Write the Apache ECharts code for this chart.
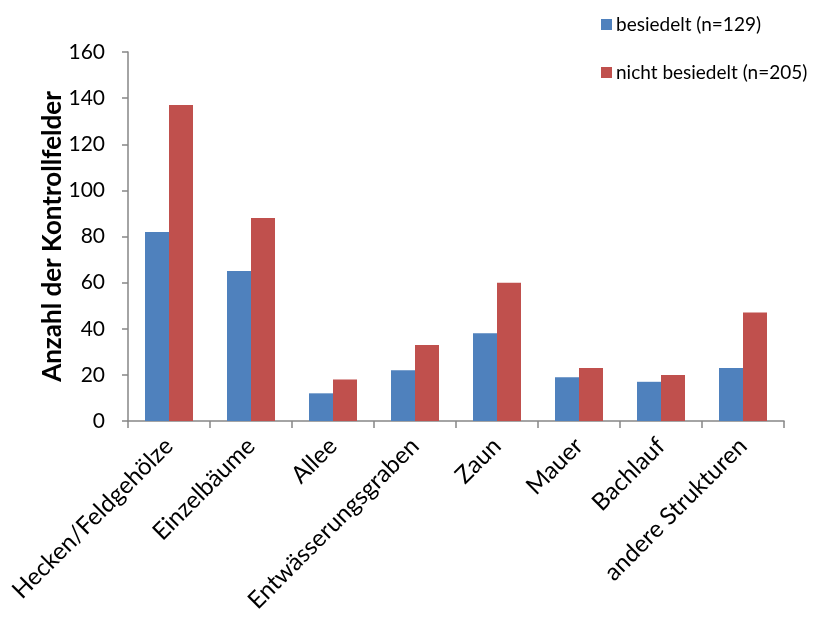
<!DOCTYPE html>
<html>
<head>
<meta charset="utf-8">
<script src="https://cdn.jsdelivr.net/npm/echarts@6/dist/echarts.min.js"></script>
<style>
html, body { margin: 0; padding: 0; background: #fff; }
#chart { width: 814px; height: 624px; }
</style>
</head>
<body>
<div id="chart"></div>
<script>
const categories = ['Hecken/Feldgehölze', 'Einzelbäume', 'Allee', 'Entwässerungsgraben', 'Zaun', 'Mauer', 'Bachlauf', 'andere Strukturen'];
const besiedelt = [82, 65, 12, 22, 38, 19, 17, 23];
const nichtBesiedelt = [137, 88, 18, 33, 60, 23, 20, 47];
const seriesNames = ['besiedelt (n=129)', 'nicht besiedelt (n=205)'];
const yTitle = 'Anzahl der Kontrollfelder';

const font = 'Lato, Carlito, "Open Sans", sans-serif';
const axisGray = '#868686';

const chart = echarts.init(document.getElementById('chart'), null, { renderer: 'canvas' });
chart.setOption({
  animation: false,
  backgroundColor: '#fff',
  textStyle: { fontFamily: font, color: '#000' },
  legend: {
    orient: 'vertical',
    left: 596,
    top: 10,
    itemGap: 29,
    itemWidth: 11,
    itemHeight: 11,
    icon: 'rect',
    textStyle: { fontFamily: font, fontSize: 19, color: '#000', padding: [0, 0, 0, -1] },
    data: seriesNames
  },
  grid: { left: 128, right: 30, top: 52, bottom: 203, containLabel: false },
  xAxis: {
    type: 'category',
    data: categories,
    axisLine: { lineStyle: { color: axisGray, width: 1.5 } },
    axisTick: { show: true, length: 7, alignWithLabel: false, lineStyle: { color: axisGray, width: 1.5 } },
    axisLabel: {
      rotate: 45,
      interval: 0,
      margin: 21,
      fontFamily: font,
      fontSize: 24,
      color: '#000'
    }
  },
  yAxis: {
    type: 'value',
    min: 0,
    max: 160,
    interval: 20,
    name: yTitle,
    nameLocation: 'middle',
    nameGap: 62,
    nameMoveOverlap: false,
    nameTextStyle: { fontFamily: font, fontSize: 26, fontWeight: 'bold', color: '#000' },
    axisLine: { show: true, lineStyle: { color: axisGray, width: 1.5 } },
    axisTick: { show: true, length: 6, lineStyle: { color: axisGray, width: 1.5 } },
    splitLine: { show: false },
    axisLabel: { fontFamily: font, fontSize: 21, color: '#000', margin: 23 }
  },
  series: [
    {
      name: seriesNames[0],
      type: 'bar',
      data: besiedelt,
      barWidth: 24,
      barGap: '0%',
      itemStyle: { color: '#4F81BD' }
    },
    {
      name: seriesNames[1],
      type: 'bar',
      data: nichtBesiedelt,
      barWidth: 24,
      barGap: '0%',
      itemStyle: { color: '#C0504D' }
    }
  ]
});
</script>
</body>
</html>
